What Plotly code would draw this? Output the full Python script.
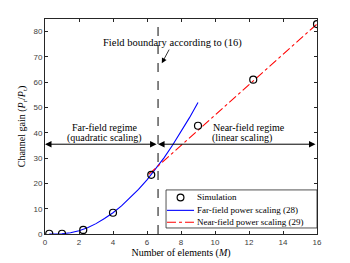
import plotly.graph_objects as go

# Data
sim_x = [0.25, 1, 2.25, 4, 6.25, 9, 12.25, 16]
sim_y = [0.1, 0.1, 1.6, 8.4, 23.4, 42.8, 61.0, 83.0]

far_x = [0.25, 0.5, 1, 1.5, 2, 2.5, 3, 3.5, 4, 4.5, 5, 5.5, 6, 6.5, 7, 7.5, 8, 8.5, 9]
far_y = [0.0, 0.0, 0.1, 0.5, 1.3, 2.5, 4.1, 6.1, 8.4, 11.1, 14.2, 17.6, 21.4, 25.6, 30.1, 35.1, 40.3, 46.0, 52.0]

near_x = [6.1, 16]
near_y = [23.6, 83.0]

boundary_x = 6.65
arrow_y = 35.5

x_ticks = [0, 2, 4, 6, 8, 10, 12, 14, 16]
y_ticks = [0, 10, 20, 30, 40, 50, 60, 70, 80]

legend_labels = ["Simulation", "Far-field power scaling (28)", "Near-field power scaling (29)"]

serif = "Liberation Serif"
sans = "Liberation Sans"

fig = go.Figure()

fig.add_trace(go.Scatter(
    x=far_x, y=far_y, mode="lines", name=legend_labels[1],
    line=dict(color="#0000FF", width=1.1),
))
fig.add_trace(go.Scatter(
    x=near_x, y=near_y, mode="lines", name=legend_labels[2],
    line=dict(color="#FF0000", width=1.1, dash="dashdot"),
))
fig.add_trace(go.Scatter(
    x=sim_x, y=sim_y, mode="markers", name=legend_labels[0],
    marker=dict(symbol="circle-open", size=7, color="black", line=dict(width=1.2, color="black")),
))

# vertical boundary
fig.add_shape(type="line", x0=boundary_x, x1=boundary_x, y0=0, y1=85, xref="x", yref="y",
              line=dict(color="#333333", width=1.2, dash="dash"))

# legend box (drawn in paper coordinates, MATLAB style compact legend)
lx0, lx1, ly0, ly1 = 0.445, 1.0, 0.028, 0.205
row_y = [0.170, 0.110, 0.055]
sx0, sx1, tx = 0.4485, 0.548, 0.551
fig.add_shape(type="rect", xref="paper", yref="paper", x0=lx0, x1=lx1, y0=ly0, y1=ly1,
              line=dict(color="#262626", width=0.8), fillcolor="white", layer="above")
mx, my = (sx0 + sx1) / 2, row_y[0]
fig.add_shape(type="circle", xref="paper", yref="paper", x0=mx - 0.0125, x1=mx + 0.0125,
              y0=my - 0.0158, y1=my + 0.0158, line=dict(color="black", width=1.2), layer="above")
fig.add_shape(type="line", xref="paper", yref="paper", x0=sx0, x1=sx1, y0=row_y[1], y1=row_y[1],
              line=dict(color="#0000FF", width=1.1), layer="above")
fig.add_shape(type="line", xref="paper", yref="paper", x0=sx0, x1=sx1, y0=row_y[2], y1=row_y[2],
              line=dict(color="#FF0000", width=1.1, dash="dashdot"), layer="above")

tf = dict(family=serif, size=10, color="black")
annotations = []
for lab, ry in zip(legend_labels, row_y):
    annotations.append(dict(x=tx, y=ry, xref="paper", yref="paper", text=lab, showarrow=False,
                            xanchor="left", yanchor="middle", font=dict(family=serif, size=9, color="black")))

annotations.append(dict(x=0, y=arrow_y, ax=boundary_x, ay=arrow_y, xref="x", yref="y", axref="x", ayref="y",
                        text="", showarrow=True, arrowhead=2, arrowside="end+start", arrowsize=1.3,
                        arrowwidth=1, arrowcolor="black"))
annotations.append(dict(x=boundary_x, y=arrow_y, ax=16, ay=arrow_y, xref="x", yref="y", axref="x", ayref="y",
                        text="", showarrow=True, arrowhead=2, arrowside="end+start", arrowsize=1.3,
                        arrowwidth=1, arrowcolor="black"))
annotations.append(dict(x=6.87, y=67.5, ax=7.35, ay=73.5, xref="x", yref="y", axref="x", ayref="y",
                        text="", showarrow=True, arrowhead=2, arrowsize=1.3, arrowwidth=0.8,
                        arrowcolor="black"))
annotations.append(dict(x=7.5, y=75.5, xref="x", yref="y", text="Field boundary according to (16)",
                        showarrow=False, font=dict(family=serif, size=10.5, color="black")))
annotations.append(dict(x=3.5, y=42.3, xref="x", yref="y", text="Far-field regime",
                        showarrow=False, font=tf))
annotations.append(dict(x=3.5, y=38.1, xref="x", yref="y", text="(quadratic scaling)",
                        showarrow=False, font=tf))
annotations.append(dict(x=12.0, y=42.3, xref="x", yref="y", text="Near-field regime",
                        showarrow=False, font=tf))
annotations.append(dict(x=11.6, y=38.1, xref="x", yref="y", text="(linear scaling)",
                        showarrow=False, font=tf))

fig.update_layout(
    width=350, height=263,
    margin=dict(l=45, r=33, t=19, b=29, autoexpand=False),
    paper_bgcolor="white", plot_bgcolor="white",
    showlegend=False,
    annotations=annotations,
    xaxis=dict(range=[0, 16], tickvals=x_ticks, ticks="inside", ticklen=3, tickwidth=0.6,
               tickcolor="#262626", showline=True, linecolor="#262626", linewidth=0.8, mirror="ticks",
               showgrid=False, zeroline=False, automargin=False,
               tickfont=dict(family=sans, size=8, color="#404040"),
               title=dict(text="Number of elements (<i>M</i>)", standoff=0,
                          font=dict(family=serif, size=10, color="black"))),
    yaxis=dict(range=[0, 85], tickvals=y_ticks, ticks="inside", ticklen=3, tickwidth=0.6,
               tickcolor="#262626", showline=True, linecolor="#262626", linewidth=0.8, mirror="ticks",
               showgrid=False, zeroline=False, automargin=False,
               tickfont=dict(family=sans, size=8, color="#404040"),
               title=dict(text="Channel gain (<i>P</i><sub>r</sub>/<i>P</i><sub>t</sub>)", standoff=6,
                          font=dict(family=serif, size=10, color="black"))),
)

fig.write_html("out.html", config={"displayModeBar": False},
               post_script="document.body.style.margin='0px';")
